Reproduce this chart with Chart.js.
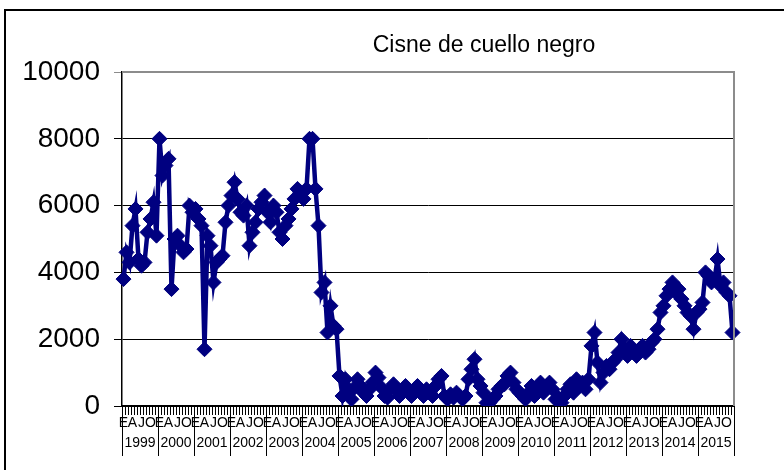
<!DOCTYPE html>
<html>
<head>
<meta charset="utf-8">
<script src="https://cdn.jsdelivr.net/npm/chart.js@4"></script>
<style>
  html, body { margin: 0; padding: 0; background: #fff; }
  #wrap { width: 784px; height: 470px; position: relative; }
</style>
</head>
<body>
<div id="wrap"><canvas id="lineChart"></canvas></div>
<script>
const years = ['1999','2000','2001','2002','2003','2004','2005','2006','2007','2008','2009','2010','2011','2012','2013','2014','2015'];
const monthLetters = ['E','','','A','','','J','','','O','',''];

// monthly counts, one row of 12 per year
const counts = [
  3800, 4600, 4300, 5400, 5900, 4400, 4200, 4300, 5200, 5600, 6100, 5100,
  8000, 6900, 7200, 7400, 3500, 5000, 5100, 4800, 4600, 4700, 6000, 5800,
  5900, 5600, 5400, 1700, 5100, 4800, 3700, 4300, 4400, 4500, 5500, 6000,
  6300, 6700, 6200, 5800, 5700, 6000, 4800, 5200, 5500, 5900, 6100, 6300,
  5800, 5500, 6000, 5800, 5200, 5000, 5400, 5600, 5900, 6200, 6500, 6400,
  6200, 6500, 8000, 8000, 6500, 5400, 3400, 3700, 2200, 3000, 2400, 2300,
  900, 300, 800, 500, 200, 550, 800, 600, 400, 300, 500, 700,
  1000, 850, 550, 300, 250, 500, 650, 500, 300, 400, 600, 400,
  300, 500, 600, 400, 300, 500, 400, 300, 600, 800, 900, 300,
  200, 350, 250, 400, 300, 200, 300, 800, 1100, 1400, 800, 600,
  400, 100, 100, 200, 300, 500, 600, 650, 900, 1000, 700, 500,
  400, 300, 200, 400, 600, 300, 500, 700, 400, 600, 700, 500,
  200, 250, 100, 300, 500, 650, 400, 800, 600, 700, 500, 800,
  1800, 2200, 1300, 700, 1000, 1200, 1100, 1300, 1400, 1600, 2000, 1700,
  1500, 1800, 1600, 1500, 1700, 1800, 1600, 1700, 1900, 2000, 2300, 2800,
  3000, 3300, 3500, 3700, 3400, 3500, 3200, 3000, 2800, 2700, 2300, 2800,
  2900, 3100, 4000, 3900, 3700, 3800, 4400, 3600, 3700, 3400, 3300, 2200
];
const yTicks = [0, 2000, 4000, 6000, 8000, 10000];

const labels = [];
years.forEach(y => monthLetters.forEach((m, i) => labels.push(y + '-' + (i + 1))));

const navy = '#000080';
const FONT = 'Arial, "Liberation Sans", sans-serif';

// frame, title, plot border, year row
const decor = {
  id: 'decor',
  beforeDraw(chart) {
    const c = chart.ctx;
    c.save();
    c.fillStyle = '#fff';
    c.fillRect(0, 0, chart.width, chart.height);
    c.restore();
  },
  afterDraw(chart) {
    const c = chart.ctx;
    const a = chart.chartArea;
    const x = chart.scales.x;
    c.save();
    // outer frame
    c.strokeStyle = '#000';
    c.lineWidth = 2;
    c.strokeRect(5, 10, 800, 480);
    // title
    c.fillStyle = '#000';
    c.font = '23px ' + FONT;
    c.textAlign = 'center';
    c.textBaseline = 'middle';
    c.fillText('Cisne de cuello negro', 484, 46);
    // plot area border top / right
    c.strokeStyle = '#8c8c8c';
    c.lineWidth = 2;
    c.beginPath();
    c.moveTo(a.left, a.top);
    c.lineTo(a.right, a.top);
    c.lineTo(a.right, a.bottom);
    c.stroke();
    // year separators + labels
    c.strokeStyle = '#000';
    c.lineWidth = 1;
    c.font = '14px ' + FONT;
    const step = x.getPixelForValue(1) - x.getPixelForValue(0);
    years.forEach((y, k) => {
      const first = x.getPixelForValue(k * 12);
      const last = x.getPixelForValue(k * 12 + 11);
      const x0 = Math.round(first - step / 2) + 0.5;
      c.beginPath();
      c.moveTo(x0, a.bottom);
      c.lineTo(x0, a.bottom + 50);
      c.stroke();
      if (k === years.length - 1) {
        const x1 = Math.round(last + step / 2) + 0.5;
        c.beginPath();
        c.moveTo(x1, a.bottom);
        c.lineTo(x1, a.bottom + 50);
        c.stroke();
      }
      c.fillText(y, (first + last) / 2, a.bottom + 37);
    });
    c.restore();
  }
};

const dataLine = {
  labels: labels,
  datasets: [
    {
      label: 'Cisne de cuello negro',
      data: counts,
      borderColor: navy,
      backgroundColor: navy,
      borderWidth: 4.5,
      pointStyle: 'rectRot',
      pointRadius: 7.5,
      pointBorderWidth: 1,
      pointBackgroundColor: navy,
      pointBorderColor: navy,
      tension: 0
    }
  ]
};

const configLine = {
  type: 'line',
  data: dataLine,
  plugins: [decor],
  options: {
    responsive: false,
    animation: false,
    layout: { padding: { top: 72, right: 50, bottom: 0, left: 0 } },
    plugins: {
      legend: { display: false },
      title: { display: false },
      tooltip: { enabled: false }
    },
    scales: {
      x: {
        type: 'category',
        offset: true,
        afterFit: s => { s.height = 64; },
        grid: {
          offset: true,
          drawOnChartArea: false,
          drawTicks: true,
          tickLength: 9,
          color: '#000',
          lineWidth: 1
        },
        border: { color: '#000', width: 1.5 },
        ticks: {
          autoSkip: false,
          maxRotation: 0,
          minRotation: 0,
          padding: 0,
          color: '#000',
          font: { family: FONT, size: 14 },
          callback: (v, i) => monthLetters[i % 12]
        }
      },
      y: {
        min: 0,
        max: 10000,
        afterFit: s => { s.width = 122; },
        afterBuildTicks: s => { s.ticks = yTicks.map(v => ({ value: v })); },
        grid: {
          color: ctx => ctx.tick && ctx.tick.value === 10000 ? '#8c8c8c' : '#000',
          lineWidth: 1,
          tickLength: 8
        },
        border: { color: '#000', width: 1.5 },
        ticks: {
          padding: 14,
          color: '#000',
          font: { family: FONT, size: 28 },
          callback: v => String(v)
        }
      }
    }
  }
};

const canvas = document.getElementById('lineChart');
canvas.width = 784;
canvas.height = 470;
const lineChart = new Chart(canvas, configLine);
</script>
</body>
</html>
